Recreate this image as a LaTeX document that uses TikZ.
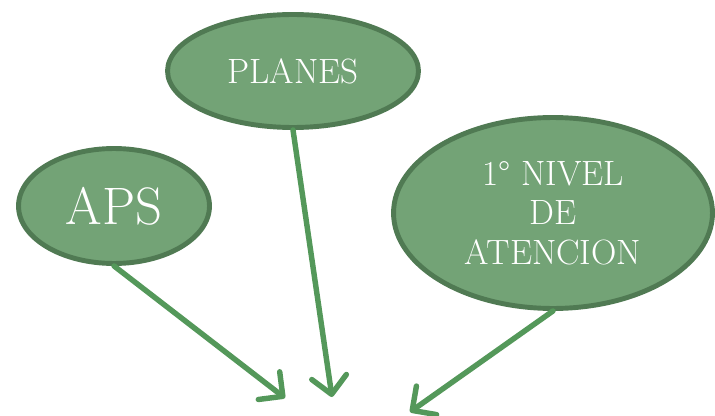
\documentclass[tikz,border=0pt]{standalone}
\usetikzlibrary{shapes.geometric, arrows.meta}
\definecolor{vertfond}{HTML}{73A376}
\definecolor{vertbord}{HTML}{507A53}
\definecolor{vertfleche}{HTML}{54985A}
\begin{document}
\begin{tikzpicture}[x=0.02cm, y=-0.02cm]
\tikzset{bulle/.style={draw=vertbord, fill=vertfond, ellipse, line width=2.8pt, inner sep=0pt, text=white, align=center},
fleche/.style={draw=vertfleche, line width=3.1pt, line cap=round, -{Straight Barb[length=3.5mm, width=7mm, line cap=round, line join=round]}}}
\useasboundingbox (0, 0) rectangle (715, 415);
\node[bulle, minimum width=3.82cm, minimum height=2.3cm, font=\fontsize{30}{34}\selectfont] (APS) at (114, 206) {APS};
\node[bulle, minimum width=5.02cm, minimum height=2.26cm, font=\fontsize{20}{24}\selectfont] (PLANES) at (293, 71) {PLANES};
\node[bulle, minimum width=6.38cm, minimum height=3.82cm, font=\fontsize{20}{22.5}\selectfont] (NIVEL) at (553, 213) {1\textdegree{} NIVEL\\DE\\ATENCION};
\coordinate (butA) at (285, 398);
\coordinate (butB) at (332, 397);
\coordinate (butC) at (410, 412);
\draw[fleche] (APS.south) -- (butA);
\draw[fleche] (PLANES.south) -- (butB);
\draw[fleche] (NIVEL.south) -- (butC);
\end{tikzpicture}
\end{document}
